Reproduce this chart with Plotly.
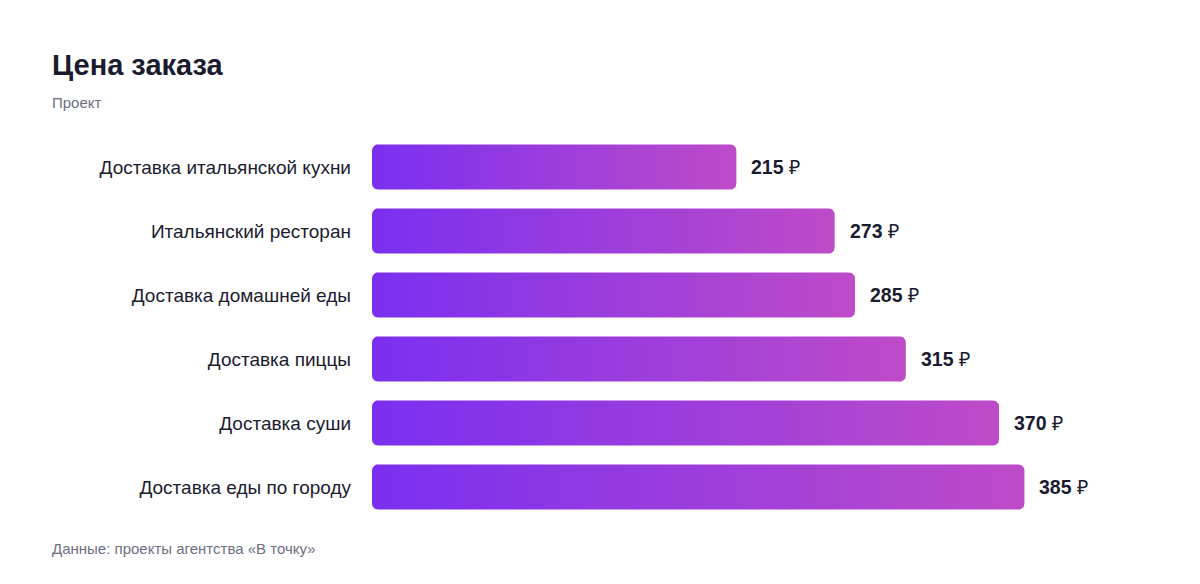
import numpy as np
import plotly.graph_objects as go

# данные
categories = [
    "Доставка итальянской кухни",
    "Итальянский ресторан",
    "Доставка домашней еды",
    "Доставка пиццы",
    "Доставка суши",
    "Доставка еды по городу",
]
prices = [215, 273, 285, 315, 370, 385]
currency = "₽"

title_text = "Цена заказа"
subtitle_text = "Проект"
source_text = "Данные: проекты агентства «В точку»"

# оформление
W, H = 1200, 584
off = 8  # отступ body в странице
margin = dict(l=372 - off, r=40 + off, t=135 - off, b=65 + off)
x_max = 465
bar_half = 0.352
corner_px = 6
grad = [[0, "#7a2ff0"], [1, "#be4bc8"]]
dark = "#1b1b2f"
gray = "#6e6e82"
font = "Liberation Sans, Arial, sans-serif"

plot_w = W - margin["l"] - margin["r"]
plot_h = H - margin["t"] - margin["b"]
px_x = plot_w / x_max                # пикселей на единицу по x
px_y = plot_h / len(categories)      # пикселей на категорию
rx = corner_px / px_x
ry = corner_px / px_y


def rounded_bar(v, yc):
    """контур бара со скруглёнными углами в координатах данных"""
    t = np.linspace(0, np.pi / 2, 8)
    y0, y1 = yc - bar_half, yc + bar_half
    corners = [
        (v - rx, y0 + ry, -np.pi / 2),
        (v - rx, y1 - ry, 0),
        (rx, y1 - ry, np.pi / 2),
        (rx, y0 + ry, np.pi),
    ]
    xs, ys = [], []
    for cx, cy, a in corners:
        ang = a + t
        xs += list(cx + rx * np.cos(ang))
        ys += list(cy + ry * np.sin(ang))
    xs.append(xs[0])
    ys.append(ys[0])
    return xs, ys


fig = go.Figure()
for i, (cat, v) in enumerate(zip(categories, prices)):
    xs, ys = rounded_bar(v, i)
    fig.add_trace(go.Scatter(
        x=xs, y=ys,
        mode="lines",
        line=dict(width=0),
        fill="toself",
        fillgradient=dict(type="horizontal", colorscale=grad),
        hoverinfo="skip",
        showlegend=False,
    ))

annotations = []
for i, v in enumerate(prices):
    annotations.append(dict(
        x=v, y=i, xref="x", yref="y",
        text=f"<b>{v}</b> {currency}",
        showarrow=False, xanchor="left", yanchor="middle", xshift=13,
        font=dict(size=19.5, color=dark, family=font),
    ))


def paper_x(px):
    return (px - off - margin["l"]) / plot_w


def paper_y(py):
    return (H - margin["b"] - (py - off)) / plot_h


annotations += [
    dict(x=paper_x(50), y=paper_y(65), xref="paper", yref="paper",
         text=f"<b>{title_text}</b>", showarrow=False, xanchor="left", yanchor="middle",
         font=dict(size=29, color=dark, family=font)),
    dict(x=paper_x(50), y=paper_y(102), xref="paper", yref="paper",
         text=subtitle_text, showarrow=False, xanchor="left", yanchor="middle",
         font=dict(size=15, color=gray, family=font)),
    dict(x=paper_x(50), y=paper_y(548), xref="paper", yref="paper",
         text=source_text, showarrow=False, xanchor="left", yanchor="middle",
         font=dict(size=15, color=gray, family=font)),
]

fig.update_layout(
    width=W, height=H,
    margin=margin,
    paper_bgcolor="white",
    plot_bgcolor="white",
    font=dict(family=font, color=dark),
    xaxis=dict(range=[0, x_max], visible=False, fixedrange=True),
    yaxis=dict(
        range=[len(categories) - 0.5, -0.5],
        tickmode="array",
        tickvals=list(range(len(categories))),
        ticktext=categories,
        showgrid=False, zeroline=False, showline=False,
        ticks="", ticklabelstandoff=20,
        tickfont=dict(size=19, color=dark, family=font),
        fixedrange=True,
    ),
    annotations=annotations,
)

fig.write_html("out.html", config={"displayModeBar": False})
